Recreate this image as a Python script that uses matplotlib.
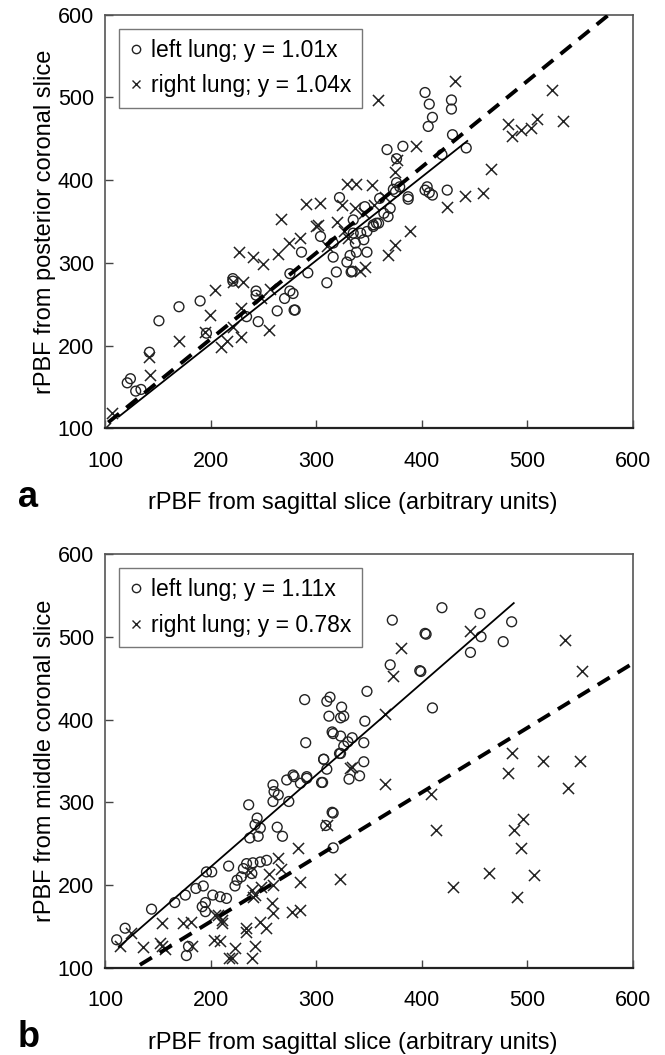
import numpy as np
import matplotlib
matplotlib.use('Agg')
import matplotlib.pyplot as plt
from matplotlib.lines import Line2D

plt.rcParams['font.family'] = ['Liberation Sans', 'DejaVu Sans']

# ── panel a: sagittal vs posterior coronal ──────────────────────────────────
a_left_x = [121, 124, 129, 134, 142, 151, 170, 190, 196, 221, 234, 243, 245, 263,
            270, 275, 279, 286, 292, 310, 316, 304, 319, 329, 334, 338, 348, 322,
            335, 346, 360, 364, 359, 354, 368, 370, 375, 376, 387, 379, 367, 382,
            348, 342, 403, 407, 410, 406, 428, 428, 429, 442, 419, 424, 403, 407,
            410, 405, 387, 376, 373, 333, 332, 337, 345, 357, 316, 335, 354, 275,
            278, 280, 243, 221]
a_left_y = [155, 160, 145, 147, 192, 230, 247, 254, 215, 278, 235, 266, 229, 242,
            257, 266, 243, 313, 288, 276, 307, 332, 289, 301, 290, 313, 313, 379,
            352, 368, 378, 360, 348, 346, 356, 366, 386, 426, 380, 392, 437, 441,
            338, 336, 506, 492, 476, 465, 497, 486, 455, 439, 431, 388, 388, 385,
            382, 392, 377, 397, 389, 289, 309, 324, 328, 348, 324, 336, 344, 287,
            263, 243, 261, 281]
a_right_x = [100, 107, 143, 142, 170, 195, 199, 204, 210, 215, 229, 221, 231, 227,
             240, 250, 221, 229, 248, 255, 264, 274, 267, 290, 304, 302, 256, 329,
             338, 353, 431, 358, 523, 534, 482, 485, 494, 503, 509, 394, 376, 375,
             465, 458, 441, 424, 389, 375, 368, 346, 341, 324, 337, 326, 300, 285,
             310, 320, 330, 345, 355, 365]
a_right_y = [100, 118, 164, 186, 205, 217, 237, 267, 198, 205, 211, 277, 277, 313,
             307, 299, 223, 245, 257, 219, 311, 324, 353, 371, 372, 346, 269, 395,
             395, 394, 520, 497, 509, 471, 468, 453, 461, 463, 474, 441, 425, 410,
             414, 385, 381, 367, 338, 322, 310, 295, 290, 370, 366, 338, 345, 330,
             320, 350, 330, 360, 370, 380]
a_slopes = [1.01, 1.04]
a_fit_x_left = [113, 443]
a_fit_x_right = [103, 600]

# ── panel b: sagittal vs middle coronal ─────────────────────────────────────
b_left_x = [111, 119, 144, 166, 176, 186, 193, 196, 201, 217, 231, 225, 223, 236,
            244, 242, 247, 237, 245, 259, 260, 264, 259, 274, 272, 279, 285, 291,
            290, 263, 268, 305, 307, 310, 323, 331, 341, 345, 316, 309, 316, 234,
            240, 247, 253, 239, 229, 202, 209, 215, 195, 192, 195, 177, 179, 372,
            403, 370, 398, 348, 289, 310, 313, 324, 312, 323, 326, 346, 315, 316,
            323, 334, 330, 345, 326, 322, 307, 306, 315, 278, 291, 419, 455, 485,
            404, 456, 477, 446, 399, 410]
b_left_y = [134, 148, 171, 179, 188, 196, 199, 216, 216, 223, 220, 206, 199, 297,
            281, 273, 269, 257, 259, 321, 313, 309, 301, 301, 327, 331, 323, 329,
            372, 270, 259, 324, 352, 340, 359, 328, 332, 349, 287, 272, 245, 226,
            227, 228, 230, 214, 210, 188, 186, 184, 179, 174, 168, 115, 126, 520,
            504, 466, 459, 434, 424, 422, 427, 415, 404, 402, 404, 398, 385, 383,
            380, 378, 373, 372, 368, 359, 352, 324, 288, 333, 331, 535, 528, 518,
            503, 500, 494, 481, 458, 414]
b_right_x = [114, 125, 136, 152, 154, 154, 157, 174, 181, 182, 203, 204, 209, 211,
             220, 223, 233, 233, 239, 242, 239, 240, 237, 247, 252, 255, 258, 259,
             264, 267, 259, 277, 285, 283, 285, 322, 310, 334, 485, 482, 515, 550,
             538, 365, 409, 413, 496, 487, 494, 464, 506, 429, 490, 380, 373, 446,
             536, 552, 365, 332, 248, 242, 207, 211, 217]
b_right_y = [127, 142, 125, 130, 126, 154, 123, 154, 156, 126, 134, 164, 132, 154,
             112, 124, 148, 144, 112, 126, 194, 186, 216, 156, 148, 214, 178, 166,
             233, 220, 200, 168, 170, 245, 204, 207, 273, 343, 360, 336, 350, 350,
             317, 322, 310, 266, 280, 266, 245, 215, 212, 198, 186, 486, 452, 507,
             496, 458, 407, 341, 198, 188, 164, 158, 112]
b_slopes = [1.11, 0.78]
b_fit_x_left = [113, 487]
b_fit_x_right = [133, 600]

ticks = [100, 200, 300, 400, 500, 600]
x_label = 'rPBF from sagittal slice (arbitrary units)'


def draw_panel(ax, lx, ly, rx, ry, slopes, fit_l, fit_r, ylabel, letter):
    ax.scatter(lx, ly, s=50, facecolors='none', edgecolors='#222222',
               linewidths=1.0, marker='o', zorder=3)
    ax.scatter(rx, ry, s=64, color='#222222', linewidths=1.1, marker='x', zorder=3)

    fl = np.array(fit_l)
    fr = np.array(fit_r)
    ax.plot(fl, slopes[0] * fl, color='black', lw=1.3, zorder=4)
    dl, = ax.plot(fr, slopes[1] * fr, color='black', lw=2.8, zorder=4)
    dl.set_dashes([3.6, 2.4])

    ax.set_xlim(100, 600)
    ax.set_ylim(100, 600)
    ax.set_xticks(ticks)
    ax.set_yticks(ticks)
    ax.tick_params(direction='in', length=6, width=1.0, top=False, right=False,
                   labelsize=15.5, color='#444444')
    ax.tick_params(axis='x', pad=16)
    ax.tick_params(axis='y', pad=8)
    for sp in ax.spines.values():
        sp.set_color('#555555')
        sp.set_linewidth(1.2)
    ax.spines['bottom'].set_color('#222222')
    ax.spines['bottom'].set_linewidth(1.6)

    ax.set_xlabel(x_label, fontsize=17, labelpad=13)
    ax.xaxis.set_label_coords(0.47, -0.155)
    ax.xaxis.label.set_va('top')
    ax.set_ylabel(ylabel, fontsize=17, labelpad=1)

    handles = [
        Line2D([], [], ls='none', marker='o', mfc='none', mec='#222222', ms=6, mew=1.0),
        Line2D([], [], ls='none', marker='x', color='#222222', ms=6, mew=1.0),
    ]
    labels = [f'left lung; y = {slopes[0]:.2f}x', f'right lung; y = {slopes[1]:.2f}x']
    leg = ax.legend(handles, labels, loc='upper left', fontsize=16.5, frameon=True,
                    fancybox=False, handlelength=0.6, handletextpad=0.35,
                    borderpad=0.45, labelspacing=0.55, borderaxespad=0.6)
    leg.get_frame().set_edgecolor('#555555')
    leg.get_frame().set_linewidth(1.0)

    ax.text(-0.165, -0.19, letter, transform=ax.transAxes, fontsize=26,
            fontweight='bold', ha='left', va='baseline')


fig = plt.figure(figsize=(6.65, 10.55), dpi=100)
ax_a = fig.add_axes([0.158, 0.594, 0.794, 0.392])
ax_b = fig.add_axes([0.158, 0.0825, 0.794, 0.3925])

draw_panel(ax_a, a_left_x, a_left_y, a_right_x, a_right_y, a_slopes,
           a_fit_x_left, a_fit_x_right, 'rPBF from posterior coronal slice', 'a')
draw_panel(ax_b, b_left_x, b_left_y, b_right_x, b_right_y, b_slopes,
           b_fit_x_left, b_fit_x_right, 'rPBF from middle coronal slice', 'b')

fig.savefig('out.png', dpi=100)
